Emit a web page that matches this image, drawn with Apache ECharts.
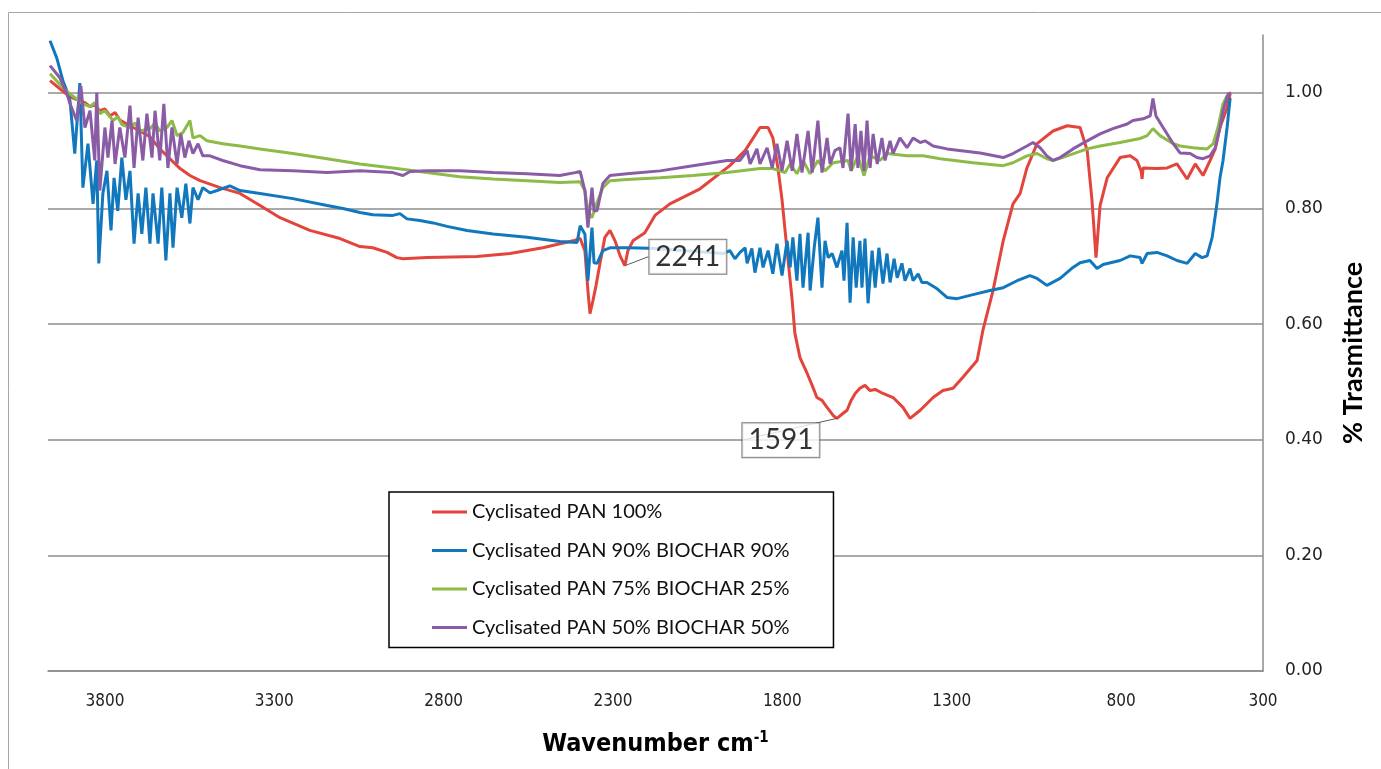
<!DOCTYPE html>
<html>
<head>
<meta charset="utf-8">
<script src="https://cdn.jsdelivr.net/npm/echarts@6/dist/echarts.min.js"></script>
<style>html,body{margin:0;padding:0;background:#fff;}#c{width:1381px;height:769px;}</style>
</head>
<body>
<div id="c"></div>
<script>
const seriesNames = ['Cyclisated PAN 100%','Cyclisated PAN 90% BIOCHAR 90%','Cyclisated PAN 75% BIOCHAR 25%','Cyclisated PAN 50% BIOCHAR 50%'];
const xTickValues = [3800,3300,2800,2300,1800,1300,800,381];
const xTickLabels = ['3800','3300','2800','2300','1800','1300','800','300'];
const yTickValues = [0,0.2,0.4,0.6,0.8,1.0];
const annotationWn = [2265,1639];
const annotationT = [0.701,0.437];
const annotationText = ['2241','1591'];

const red = [[3962,1.021],[3933,1.007],[3903,0.993],[3874,0.986],[3859,0.983],[3844,0.976],[3830,0.979],[3815,0.969],[3800,0.972],[3785,0.960],[3770,0.966],[3756,0.953],[3726,0.943],[3697,0.934],[3667,0.924],[3638,0.903],[3608,0.886],[3578,0.869],[3549,0.857],[3519,0.848],[3460,0.836],[3401,0.826],[3342,0.805],[3283,0.784],[3195,0.762],[3106,0.748],[3047,0.734],[3009,0.732],[2967,0.724],[2938,0.715],[2920,0.713],[2849,0.715],[2702,0.717],[2604,0.722],[2507,0.732],[2418,0.744],[2397,0.748],[2383,0.727],[2374,0.658],[2368,0.618],[2359,0.641],[2350,0.667],[2338,0.706],[2324,0.750],[2309,0.762],[2294,0.744],[2279,0.718],[2265,0.701],[2256,0.727],[2241,0.744],[2206,0.758],[2176,0.788],[2132,0.808],[2043,0.834],[1955,0.874],[1910,0.900],[1866,0.940],[1842,0.940],[1828,0.922],[1813,0.870],[1801,0.815],[1786,0.727],[1771,0.641],[1763,0.584],[1748,0.542],[1727,0.515],[1712,0.494],[1698,0.473],[1683,0.468],[1668,0.456],[1650,0.442],[1639,0.437],[1624,0.444],[1609,0.451],[1597,0.468],[1585,0.480],[1571,0.489],[1556,0.494],[1541,0.485],[1526,0.487],[1503,0.480],[1473,0.473],[1444,0.456],[1423,0.437],[1393,0.451],[1355,0.473],[1326,0.485],[1296,0.489],[1267,0.508],[1225,0.537],[1208,0.589],[1178,0.658],[1148,0.744],[1119,0.808],[1098,0.826],[1078,0.870],[1048,0.912],[1001,0.934],[959,0.943],[921,0.940],[900,0.900],[886,0.815],[874,0.715],[862,0.805],[841,0.853],[803,0.888],[773,0.891],[753,0.883],[741,0.865],[738,0.851],[735,0.870],[694,0.869],[664,0.870],[635,0.877],[605,0.851],[581,0.877],[558,0.857],[537,0.883],[522,0.903],[508,0.940],[487,0.974],[478,0.998]];

const blue = [[3962,1.090],[3942,1.060],[3924,1.021],[3912,1.003],[3903,0.986],[3889,0.895],[3874,1.017],[3865,0.836],[3850,0.912],[3835,0.808],[3824,0.883],[3818,0.705],[3806,0.826],[3794,0.865],[3782,0.762],[3773,0.853],[3762,0.796],[3750,0.888],[3738,0.815],[3726,0.865],[3714,0.739],[3702,0.826],[3691,0.756],[3679,0.836],[3667,0.739],[3658,0.826],[3643,0.739],[3632,0.836],[3620,0.710],[3608,0.826],[3599,0.732],[3587,0.836],[3573,0.784],[3561,0.843],[3549,0.774],[3540,0.836],[3525,0.815],[3511,0.836],[3490,0.827],[3469,0.831],[3431,0.839],[3401,0.831],[3342,0.826],[3245,0.817],[3144,0.805],[3097,0.800],[3047,0.793],[3009,0.789],[2950,0.788],[2929,0.791],[2908,0.782],[2870,0.779],[2831,0.775],[2790,0.769],[2731,0.762],[2654,0.756],[2554,0.750],[2457,0.743],[2406,0.741],[2397,0.770],[2383,0.756],[2374,0.675],[2362,0.767],[2356,0.706],[2347,0.705],[2330,0.727],[2309,0.732],[2259,0.732],[2191,0.731],[2043,0.725],[1975,0.722],[1955,0.727],[1940,0.713],[1925,0.724],[1910,0.732],[1904,0.705],[1890,0.731],[1881,0.689],[1866,0.732],[1857,0.698],[1842,0.727],[1828,0.687],[1816,0.739],[1801,0.684],[1786,0.744],[1777,0.698],[1769,0.750],[1757,0.675],[1748,0.756],[1739,0.663],[1724,0.758],[1718,0.658],[1706,0.732],[1695,0.784],[1683,0.663],[1674,0.744],[1665,0.715],[1653,0.722],[1639,0.698],[1624,0.727],[1618,0.675],[1609,0.775],[1600,0.637],[1591,0.750],[1582,0.663],[1571,0.744],[1565,0.663],[1556,0.748],[1547,0.636],[1535,0.727],[1526,0.663],[1515,0.732],[1503,0.670],[1491,0.722],[1482,0.672],[1470,0.713],[1461,0.680],[1447,0.705],[1438,0.675],[1423,0.696],[1414,0.675],[1399,0.687],[1388,0.672],[1373,0.672],[1343,0.661],[1314,0.646],[1284,0.644],[1237,0.651],[1187,0.658],[1148,0.663],[1107,0.675],[1069,0.684],[1048,0.679],[1019,0.667],[980,0.679],[942,0.698],[921,0.706],[892,0.710],[871,0.696],[853,0.703],[803,0.710],[773,0.718],[744,0.715],[738,0.705],[723,0.722],[694,0.724],[664,0.718],[635,0.710],[605,0.705],[581,0.722],[561,0.715],[546,0.718],[531,0.750],[517,0.808],[508,0.853],[499,0.883],[487,0.940],[478,0.991]];

const green = [[3962,1.033],[3924,1.009],[3903,0.998],[3865,0.981],[3844,0.976],[3830,0.983],[3815,0.964],[3800,0.969],[3776,0.952],[3762,0.959],[3750,0.945],[3726,0.940],[3711,0.948],[3697,0.934],[3667,0.938],[3652,0.948],[3638,0.934],[3617,0.940],[3602,0.952],[3587,0.926],[3570,0.931],[3549,0.952],[3540,0.922],[3519,0.926],[3499,0.917],[3452,0.912],[3401,0.908],[3342,0.903],[3245,0.895],[3144,0.886],[3047,0.877],[2950,0.870],[2849,0.862],[2752,0.855],[2654,0.851],[2554,0.848],[2457,0.845],[2397,0.846],[2383,0.831],[2374,0.796],[2362,0.784],[2353,0.801],[2330,0.836],[2309,0.848],[2259,0.850],[2161,0.853],[2064,0.857],[1963,0.862],[1866,0.869],[1828,0.869],[1792,0.862],[1777,0.877],[1757,0.860],[1739,0.883],[1718,0.860],[1695,0.883],[1674,0.865],[1650,0.879],[1606,0.883],[1597,0.865],[1577,0.891],[1559,0.857],[1541,0.891],[1512,0.883],[1491,0.895],[1432,0.891],[1385,0.891],[1334,0.886],[1237,0.879],[1148,0.874],[1119,0.879],[1078,0.891],[1048,0.895],[1019,0.886],[1001,0.883],[959,0.891],[900,0.903],[862,0.908],[803,0.914],[744,0.921],[723,0.926],[706,0.938],[685,0.926],[646,0.912],[626,0.908],[587,0.905],[546,0.903],[528,0.912],[514,0.940],[499,0.981],[487,0.995]];

const purple = [[3962,1.047],[3933,1.026],[3912,0.998],[3903,0.981],[3883,0.952],[3871,1.012],[3859,0.940],[3844,0.969],[3830,0.883],[3824,1.000],[3815,0.831],[3800,0.940],[3791,0.888],[3779,0.952],[3770,0.877],[3756,0.940],[3741,0.888],[3726,0.978],[3714,0.870],[3702,0.957],[3688,0.883],[3676,0.964],[3661,0.888],[3652,0.969],[3638,0.883],[3626,0.981],[3614,0.870],[3602,0.940],[3587,0.877],[3576,0.929],[3564,0.888],[3552,0.917],[3540,0.895],[3525,0.912],[3511,0.891],[3490,0.891],[3452,0.883],[3401,0.874],[3342,0.867],[3245,0.865],[3144,0.862],[3047,0.865],[2950,0.862],[2920,0.857],[2899,0.864],[2849,0.865],[2752,0.865],[2654,0.862],[2554,0.860],[2457,0.857],[2412,0.862],[2397,0.864],[2383,0.831],[2374,0.767],[2362,0.836],[2356,0.796],[2347,0.796],[2330,0.843],[2309,0.857],[2259,0.860],[2161,0.865],[2064,0.874],[1963,0.883],[1925,0.883],[1904,0.900],[1895,0.877],[1875,0.903],[1866,0.877],[1845,0.905],[1830,0.870],[1816,0.912],[1801,0.865],[1786,0.917],[1771,0.865],[1757,0.929],[1742,0.862],[1724,0.934],[1712,0.862],[1695,0.952],[1683,0.862],[1668,0.922],[1659,0.877],[1645,0.900],[1630,0.905],[1621,0.870],[1606,0.964],[1597,0.865],[1585,0.946],[1577,0.870],[1568,0.934],[1559,0.865],[1550,0.952],[1541,0.870],[1532,0.929],[1520,0.877],[1506,0.922],[1497,0.883],[1482,0.917],[1473,0.895],[1453,0.922],[1432,0.905],[1414,0.922],[1393,0.914],[1379,0.917],[1355,0.908],[1314,0.903],[1216,0.896],[1148,0.888],[1119,0.895],[1078,0.908],[1060,0.914],[1039,0.905],[1019,0.891],[1001,0.883],[980,0.888],[942,0.903],[900,0.917],[862,0.929],[824,0.938],[782,0.946],[765,0.952],[735,0.955],[714,0.960],[706,0.990],[697,0.960],[676,0.940],[646,0.912],[626,0.896],[596,0.895],[576,0.888],[558,0.886],[537,0.891],[522,0.905],[508,0.940],[499,0.969],[484,0.998],[475,1.000]];

const colors = ['#E3443B','#1178BE','#8DBB48','#8A5CA6'];
const seriesData = [red, blue, green, purple];

const chart = echarts.init(document.getElementById('c'), null, {renderer:'canvas'});
const lineSeries = seriesData.map((d,i)=>({
  name: seriesNames[i], type:'line', data:d, showSymbol:false, symbol:'none',
  lineStyle:{color:colors[i], width:3}, itemStyle:{color:colors[i]}, z: 2+i, animation:false
}));
const annData = annotationWn.map((w,i)=>({value:[w, annotationT[i]], name: annotationText[i]}));
const annOffsets = [[63,-9],[-56,22]];
const narrow = '"Liberation Sans Narrow","DejaVu Sans Condensed",sans-serif';

chart.setOption({
  animation:false,
  color: colors,
  grid:{left:48, right:118, top:35, bottom:98, containLabel:false},
  graphic:[{type:'rect', shape:{x:8.5, y:12.5, width:1500, height:900}, style:{fill:'none', stroke:'#a6a6a6', lineWidth:1}, silent:true, z:-10}],
  legend:{
    data: seriesNames, orient:'vertical', left:389, top:492,
    padding:[8,44,8,43], itemGap:14.5, itemWidth:35, itemHeight:3, icon:'rect',
    borderColor:'#000', borderWidth:1.5, backgroundColor:'#fff',
    textStyle:{fontSize:20, color:'#111', fontFamily:'Lato, "Noto Sans", sans-serif', lineHeight:24}
  },
  xAxis:{
    type:'value', inverse:true, min:381, max:3968,
    axisLine:{show:true, lineStyle:{color:'#8c8c8c', width:1.5}},
    axisTick:{show:false},
    splitLine:{show:false},
    axisLabel:{customValues:xTickValues, formatter:(v)=>{const k=xTickValues.indexOf(v); return k>=0?xTickLabels[k]:'';}, margin:22, fontSize:17, color:'#222', fontFamily:narrow},
    name:'{a|Wavenumber cm}{b|-1}', nameLocation:'middle', nameGap:60,
    nameTextStyle:{rich:{a:{fontSize:25, fontWeight:'bold', color:'#000', fontFamily:narrow}, b:{fontSize:15, fontWeight:'bold', color:'#000', verticalAlign:'top', padding:[0,0,12,0], fontFamily:narrow}}}
  },
  yAxis:{
    type:'value', position:'right', min:0, max:1.1,
    axisLine:{show:true, lineStyle:{color:'#8c8c8c', width:1.5}},
    axisTick:{show:false, customValues:yTickValues},
    splitLine:{show:true, lineStyle:{color:'#8c8c8c', width:1.5}},
    axisLabel:{customValues:yTickValues, formatter:(v)=>v.toFixed(2), margin:22, fontSize:17, color:'#222', fontFamily:'"DejaVu Sans",sans-serif'},
    name:'% Trasmittance', nameLocation:'middle', nameRotate:90, nameGap:77,
    nameTextStyle:{fontSize:27, fontWeight:'bold', color:'#000', fontFamily:'Lato,"Liberation Sans",sans-serif'}
  },
  series: lineSeries.concat([{
    type:'scatter', name:'annotations', data:annData, symbolSize:0, z:20, silent:true,
    label:{show:true, position:'inside', formatter:(p)=>p.name, fontSize:28, color:'#000', fontFamily:'Lato,"Noto Sans",sans-serif',
      backgroundColor:'#fff', borderColor:'#5a5a5a', borderWidth:1, padding:[3,6]},
    labelLayout:(p)=>({dx:annOffsets[p.dataIndex][0], dy:annOffsets[p.dataIndex][1]}),
    labelLine:{show:true, lineStyle:{color:'#5a5a5a', width:1}}
  }])
});
</script>
</body>
</html>
